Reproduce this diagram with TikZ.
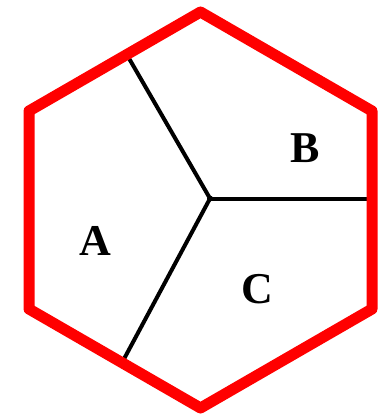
\documentclass[tikz,border=0pt]{standalone}
\usepackage{fontspec}
\setmainfont{Liberation Serif}
\begin{document}
\begin{tikzpicture}[x=1pt,y=-1pt,
  divider/.style={line width=4pt,black},
  hexline/.style={line width=11pt,draw={rgb,255:red,255;green,0;blue,0},line join=round},
  region/.style={font=\fontsize{44}{44}\selectfont\bfseries,inner sep=0pt}]
\useasboundingbox (0,0) rectangle (378,417);
% hexagon vertices
\coordinate (v1) at (200.5,12);
\coordinate (v2) at (372,111);
\coordinate (v3) at (372,309);
\coordinate (v4) at (200.5,408);
\coordinate (v5) at (29,309);
\coordinate (v6) at (29,111);
% junction and divider ends
\coordinate (j) at (210,198.5);
\coordinate (p1) at (126.7,54.4);
\coordinate (p2) at (372,198.5);
\coordinate (p3) at (122,362.7);
\draw[divider] (j) -- (p1);
\draw[divider] (j) -- (p2);
\draw[divider] (j) -- (p3);
\fill[black] (j) circle (3pt);
\draw[hexline] (v1) -- (v2) -- (v3) -- (v4) -- (v5) -- (v6) -- cycle;
\node[region] (a) at (95.5,240.5) {A};
\node[region] (b) at (305,148.5) {B};
\node[region] (c) at (257,289.5) {C};
\end{tikzpicture}
\end{document}
